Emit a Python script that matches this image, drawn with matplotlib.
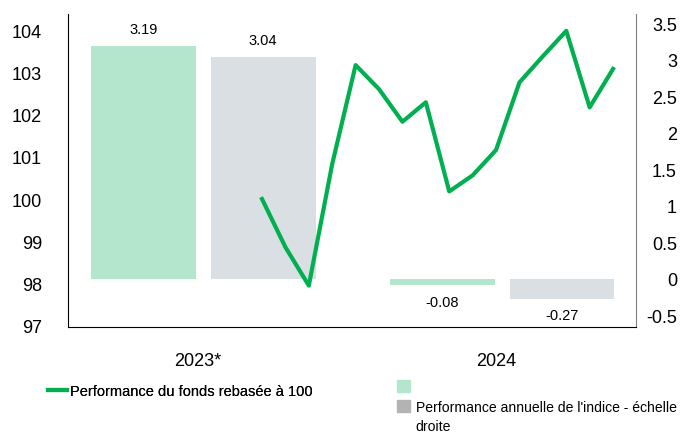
import matplotlib
matplotlib.use("Agg")
import matplotlib.pyplot as plt
from matplotlib.lines import Line2D
from matplotlib.patches import Patch
import matplotlib.transforms as mtransforms
import numpy as np

plt.rcParams['font.family'] = ['Liberation Sans', 'DejaVu Sans']

# ---- data ----
categories = ["2023*", "2024"]
fund_annual = [3.19, -0.08]
index_annual = [3.04, -0.27]
fund_rebased = [100.0, 98.86, 97.95, 100.83, 103.17, 102.6, 101.83, 102.29,
                100.18, 100.56, 101.16, 102.76, 103.38, 103.98, 102.17, 103.08]
months = list(range(len(fund_rebased)))
left_ticks = [97, 98, 99, 100, 101, 102, 103, 104]
right_ticks = [-0.5, 0, 0.5, 1, 1.5, 2, 2.5, 3, 3.5]

GREEN = "#00b050"
LGREEN = "#b3e6cc"
LGRAY = "#dadfe3"
DGRAY = "#b3b3b3"

fig = plt.figure(figsize=(6.86, 4.35), dpi=100)
rect = [68/686, 1 - 328/435, 568/686, 313/435]

# bar axes (right scale)
axb = fig.add_axes(rect)
x = np.arange(len(categories))
w = 0.35
b1 = axb.bar(x - 0.2, fund_annual, w, color=LGREEN)
b2 = axb.bar(x + 0.2, index_annual, w, color=LGRAY)
axb.set_xlim(-0.453, 1.447)
axb.set_ylim(-0.658, 3.63)
axb.yaxis.tick_right()
axb.set_yticks(right_ticks)
axb.set_yticklabels([f"{t:g}" for t in right_ticks], fontsize=13, ha='right')
axb.tick_params(axis='y', length=0, pad=29.5)
axb.set_xticks(x)
axb.set_xticklabels(categories, fontsize=13)
axb.tick_params(axis='x', length=0, pad=18)
shift = mtransforms.ScaledTranslation(-6/100, 0, fig.dpi_scale_trans)
for lab in axb.get_xticklabels():
    lab.set_transform(lab.get_transform() + shift)
for s in ['top', 'left']:
    axb.spines[s].set_visible(False)
axb.spines['right'].set_color('#808080')
axb.spines['bottom'].set_color('black')
for rects, vals in ((b1, fund_annual), (b2, index_annual)):
    for r, v in zip(rects, vals):
        cx = r.get_x() + r.get_width() / 2
        if v >= 0:
            axb.annotate(f"{v:.2f}", (cx, v), xytext=(0, 7), textcoords='offset points',
                         ha='center', va='bottom', fontsize=10.5)
        else:
            axb.annotate(f"{v:.2f}", (cx, v), xytext=(0, -7), textcoords='offset points',
                         ha='center', va='top', fontsize=10.5)

# line axes (left scale)
axl = fig.add_axes(rect)
axl.patch.set_alpha(0)
axl.plot(months, fund_rebased, color=GREEN, lw=3)
axl.set_xlim(-8.29, 15.98)
axl.set_ylim(96.97, 104.38)
axl.set_yticks(left_ticks)
axl.set_yticklabels([str(t) for t in left_ticks], fontsize=13)
axl.tick_params(axis='y', length=0, pad=18.7)
axl.set_xticks([])
for s in ['top', 'right', 'bottom']:
    axl.spines[s].set_visible(False)
axl.spines['left'].set_color('black')

# legends
h1 = [Line2D([0], [0], color=GREEN, lw=3)]
leg1 = fig.legend(h1, ["Performance du fonds rebasée à 100"], loc='upper left',
                  bbox_to_anchor=(42/686, 1 - 379/435), frameon=False, fontsize=10.5,
                  handlelength=1.3, handletextpad=0.25, borderaxespad=0)
h2 = [Patch(color=LGREEN), Patch(color=DGRAY)]
leg2 = fig.legend(h2, ["", "Performance annuelle de l'indice - échelle"], loc='upper left',
                  bbox_to_anchor=(391/686, 1 - 375/435), frameon=False, fontsize=10.1,
                  handlelength=0.95, handleheight=0.95, handletextpad=0.4,
                  labelspacing=0.45, borderaxespad=0)
fig.add_artist(leg1)
fig.text(415/686, 1 - 427/435, "droite", fontsize=10.1, va='center', ha='left')

fig.savefig("out.png", dpi=100)
